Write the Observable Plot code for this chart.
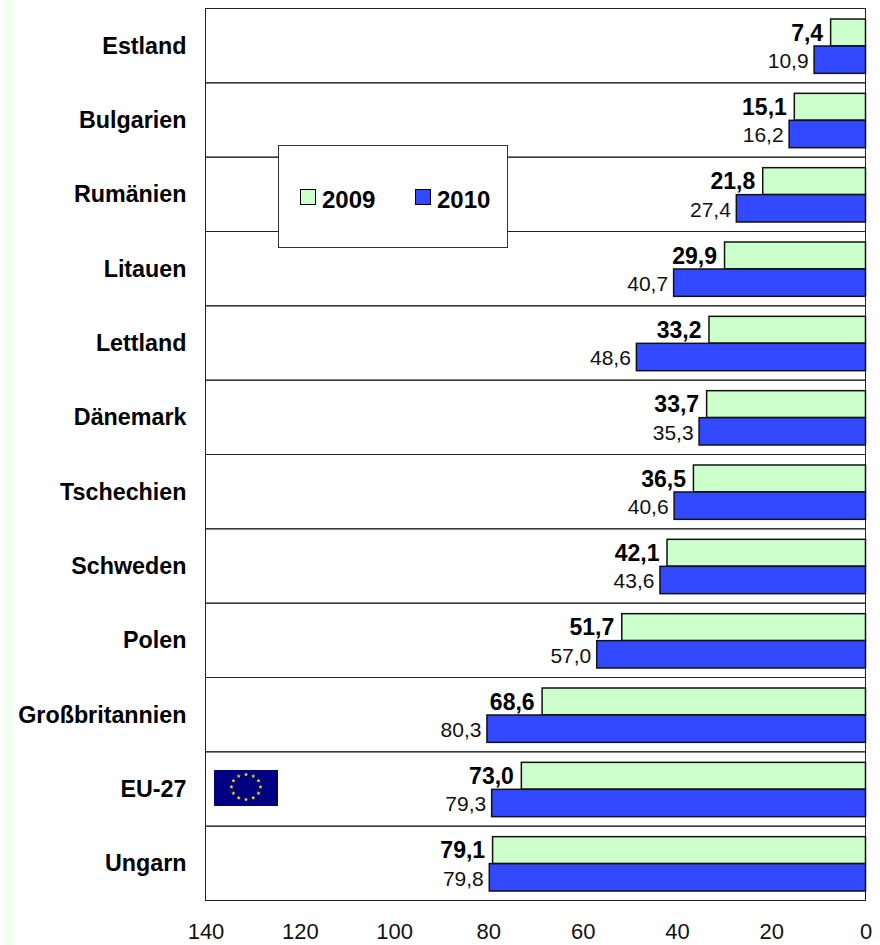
<!DOCTYPE html>
<html><head><meta charset="utf-8">
<script src="https://cdn.jsdelivr.net/npm/d3@7"></script>
<script src="https://cdn.jsdelivr.net/npm/@observablehq/plot@0.6"></script>
<style>
html,body{margin:0;padding:0;background:#fff;}
#wrap{position:relative;width:880px;height:945px;overflow:hidden;font-family:"Liberation Sans",Arial,sans-serif;}
#strip{position:absolute;left:4px;top:0;width:10px;height:945px;background:#f0fff0;}
#chart{position:absolute;left:0;top:0;}
#legend{position:absolute;left:278px;top:145px;width:228px;height:101px;background:#fff;border:1px solid #333;}
.key{position:absolute;top:43px;width:14px;height:14px;border:1px solid #000;}
.lab{position:absolute;top:41px;font:bold 24px "Liberation Sans",Arial,sans-serif;color:#000;line-height:26px;}
#flag{position:absolute;left:214px;top:770px;width:64px;height:36px;}
</style></head><body>
<div id="wrap"><div id="strip"></div><div id="chart"></div>
<div id="legend">
<div class="key" style="left:21px;background:#ccffcc"></div><div class="lab" style="left:43px">2009</div>
<div class="key" style="left:136px;background:#3349ff"></div><div class="lab" style="left:158px">2010</div>
</div>
<svg id="flag" viewBox="0 0 64 36"><rect width="64" height="36" fill="#000080"></rect><g id="stars" fill="#ffe600"></g></svg>
</div>
<script>
const countries = ["Estland","Bulgarien","Rumänien","Litauen","Lettland","Dänemark","Tschechien","Schweden","Polen","Großbritannien","EU-27","Ungarn"];
const values2009 = [7.4,15.1,21.8,29.9,33.2,33.7,36.5,42.1,51.7,68.6,73.0,79.1];
const values2010 = [10.9,16.2,27.4,40.7,48.6,35.3,40.6,43.6,57.0,80.3,79.3,79.8];
const xTicks = [140,120,100,80,60,40,20,0];
const colors = {y2009:"#ccffcc", y2010:"#3349ff"};
const fmt = v => v.toFixed(1).replace(".", ",");
const row09 = countries.map((c,i)=>({c, v:values2009[i]}));
const row10 = countries.map((c,i)=>({c, v:values2010[i]}));
const chart = Plot.plot({
  width:880, height:945, marginLeft:205, marginRight:15, marginTop:8, marginBottom:45,
  style:{fontFamily:'"Liberation Sans",Arial,sans-serif', background:"transparent", overflow:"visible"},
  x:{domain:[140,0], range:[205.5,865.5]},
  y:{domain:countries, type:"band", padding:0, round:false, range:[8.5,900.5]},
  marks:[
    Plot.barX(countries,{y:d=>d, x1:()=>140, x2:()=>0, fill:"none", stroke:"#222", strokeWidth:1}),
    Plot.barX(row09,{y:"c", x1:()=>0, x2:"v", fill:colors.y2009, stroke:"#111", strokeWidth:1.5, insetTop:10.5, insetBottom:37}),
    Plot.barX(row10,{y:"c", x1:()=>0, x2:"v", fill:colors.y2010, stroke:"#111", strokeWidth:1.5, insetTop:37.5, insetBottom:9.5}),
    Plot.text(row09,{y:"c", x:"v", text:d=>fmt(d.v), textAnchor:"end", dx:-8, dy:-13, fontSize:23, fontWeight:"bold", fill:"#000"}),
    Plot.text(row10,{y:"c", x:"v", text:d=>fmt(d.v), textAnchor:"end", dx:-6, dy:15, fontSize:21, fill:"#111"}),
    Plot.axisY({tickSize:0, tickPadding:19, fontSize:23.3, fontWeight:"bold", label:null, fill:"#000"}),
    Plot.axisX({ticks:xTicks, tickSize:0, tickPadding:23, fontSize:22, label:null, tickFormat:d=>String(d), fill:"#111"})
  ]
});
document.getElementById("chart").appendChild(chart);
// EU flag stars
const g = d3.select("#stars");
d3.range(12).forEach(i=>{
  const a = i*Math.PI/6, cx = 32+Math.sin(a)*14.5, cy = 17-Math.cos(a)*12.5;
  g.append("path").attr("d", d3.symbol(d3.symbolStar, 6)()).attr("transform",`translate(${cx},${cy})`);
});
</script></body></html>
